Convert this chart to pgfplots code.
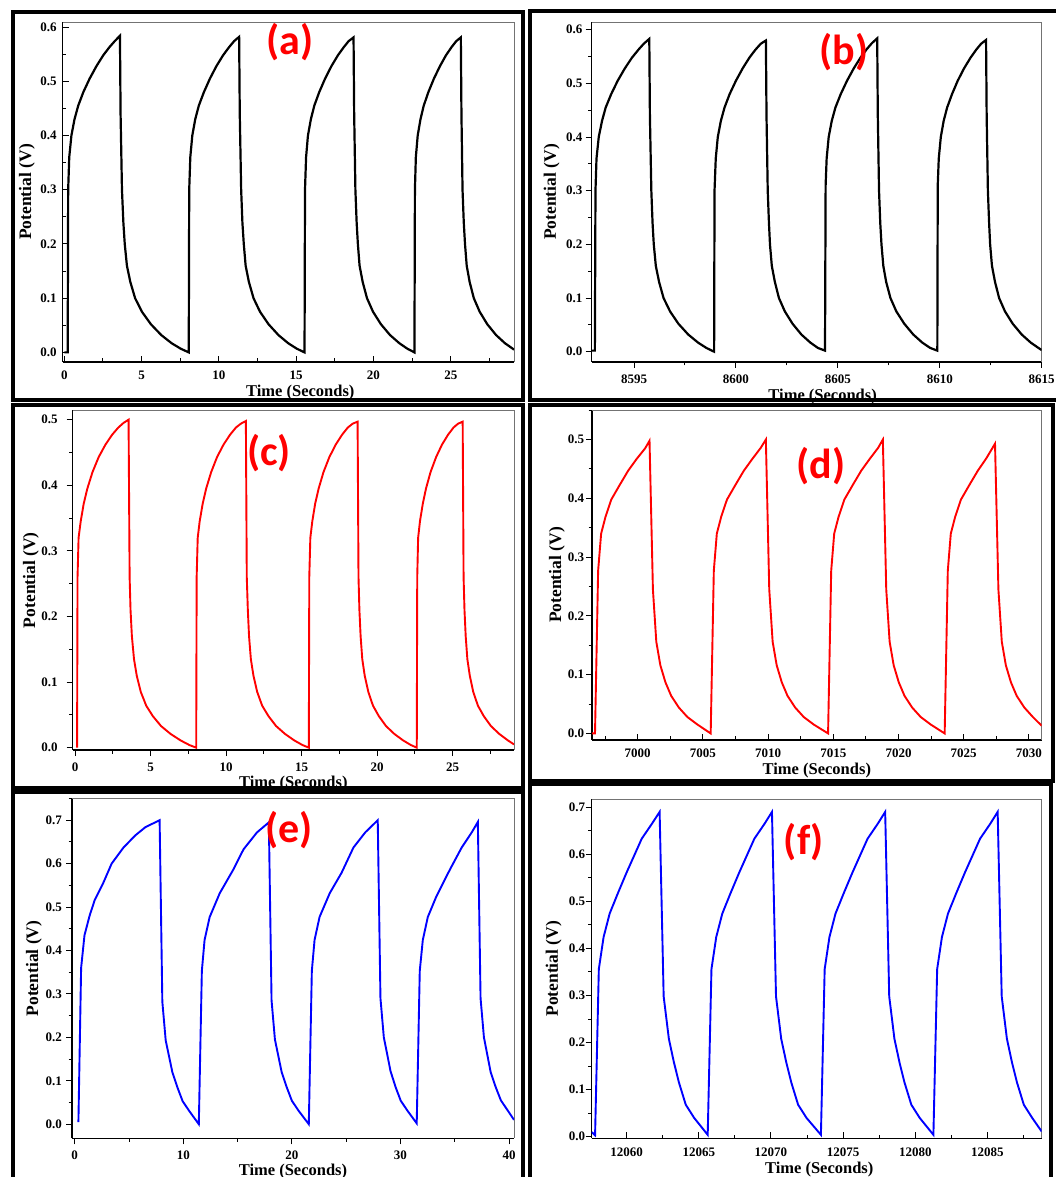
\documentclass[border=0pt]{standalone}
\usepackage{pgfplots}
\pgfplotsset{compat=1.18}
\usepackage{fontspec}
\setmainfont{Liberation Serif}
\newfontfamily\panelfont{Carlito}
\newcommand\ticksfont{\fontsize{13}{13}\selectfont\bfseries}
\newcommand\labfont{\fontsize{16.5}{16.5}\selectfont\bfseries}
\newcommand\ylabfont{\fontsize{17.5}{17.5}\selectfont\bfseries}

\pgfplotsset{
  gcd/.style={
    scale only axis,
    axis x line*=bottom, axis y line*=left,
    axis line style={-, line width=1.3pt},
    tick align=inside,
    major tick length=6pt, minor tick length=3.5pt,
    every tick/.style={black, line width=1pt},
    tick label style={font=\ticksfont, inner sep=0pt},
    /pgf/number format/assume math mode=true,
    /pgf/number format/1000 sep={},
    scaled x ticks=false, scaled y ticks=false,
    x tick label style={/pgf/number format/fixed, /pgf/number format/precision=1},
    y tick label style={/pgf/number format/fixed,
      /pgf/number format/fixed zerofill, /pgf/number format/precision=1},
    xlabel={Time (Seconds)}, ylabel={Potential (V)},
    every axis x label/.style={at={(axis description cs:0.5,0)}, anchor=center, font=\labfont},
    every axis y label/.style={at={(axis description cs:0,0.5)}, anchor=center, rotate=90, font=\ylabfont},
    clip mode=individual,
  },
  % ticks drawn outside the box
  xout/.style={major x tick style={yshift=-6pt}, minor x tick style={yshift=-3.5pt}},
  yout/.style={major y tick style={xshift=-6pt}, minor y tick style={xshift=-3.5pt}},
  % tick label offsets
  xtl/.style={x tick label style={anchor=center, yshift=-#1}},
  ytl/.style={y tick label style={anchor=east, xshift=-#1}},
}
\newcommand\boxedges{\draw[black!55, line width=0.8pt]
  (rel axis cs:0,1) -- (rel axis cs:1,1) -- (rel axis cs:1,0);}

\begin{document}
\begin{tikzpicture}[x=1pt, y=1pt]
\useasboundingbox (0,0) rectangle (1056,1177);
\clip (0,0) rectangle (1056,1177);

% ---------- (a) ----------
\begin{axis}[gcd, at={(62.6pt,815.1pt)}, anchor=south west,
  width=451.4pt, height=339.9pt,
  xtl=13.5pt, ytl=5.8pt,
  xlabel style={yshift=-31pt, xshift=12pt}, ylabel style={yshift=35.6pt},
  xmin=-0.11, xmax=29.09, ymin=-0.0175, ymax=0.6094,
  xtick={0,5,...,25}, minor xtick={2.5,7.5,...,27.5},
  ytick={0,0.1,...,0.6}, minor ytick={0.05,0.15,...,0.55}]
\boxedges
\addplot[black, line width=2.2pt] coordinates {
(0.00,0.0)(0.22,0.0)(0.25,0.30)(0.32,0.36)(0.46,0.40)(0.66,0.43)(0.90,0.455)(1.23,0.48)(1.64,0.505)(2.08,0.528)(2.52,0.548)(2.92,0.563)(3.26,0.574)(3.60,0.584)
(3.64,0.44)(3.73,0.30)(3.82,0.24)(3.91,0.20)(4.05,0.16)(4.27,0.13)(4.58,0.10)(5.02,0.075)(5.60,0.052)(6.27,0.032)(6.94,0.017)(7.52,0.007)(8.05,0.0)
(8.08,0.30)(8.15,0.36)(8.28,0.40)(8.47,0.43)(8.70,0.455)(9.03,0.48)(9.42,0.505)(9.84,0.528)(10.27,0.548)(10.66,0.563)(10.98,0.574)(11.31,0.582)
(11.35,0.44)(11.44,0.30)(11.52,0.24)(11.61,0.20)(11.73,0.16)(11.94,0.13)(12.24,0.10)(12.66,0.075)(13.21,0.052)(13.85,0.032)(14.48,0.017)(15.03,0.007)(15.54,0.0)
(15.57,0.30)(15.64,0.36)(15.76,0.40)(15.95,0.43)(16.17,0.455)(16.49,0.48)(16.87,0.505)(17.28,0.528)(17.70,0.548)(18.08,0.563)(18.39,0.574)(18.71,0.581)
(18.75,0.44)(18.83,0.30)(18.91,0.24)(18.99,0.20)(19.10,0.16)(19.30,0.13)(19.58,0.10)(19.97,0.075)(20.48,0.052)(21.07,0.032)(21.67,0.017)(22.18,0.007)(22.65,0.0)
(22.68,0.30)(22.74,0.36)(22.86,0.40)(23.04,0.43)(23.25,0.455)(23.55,0.48)(23.91,0.505)(24.30,0.528)(24.69,0.548)(25.05,0.563)(25.35,0.574)(25.65,0.581)
(25.69,0.44)(25.76,0.30)(25.84,0.24)(25.92,0.20)(26.03,0.16)(26.22,0.13)(26.49,0.10)(26.87,0.075)(27.36,0.052)(27.93,0.032)(28.50,0.017)(29.00,0.007)(29.09,0.005)
};
\end{axis}

% ---------- (b) ----------
\begin{axis}[gcd, xout, yout, at={(591.6pt,815.1pt)}, anchor=south west,
  width=450.1pt, height=339.9pt,
  xtl=17pt, ytl=9pt,
  xlabel style={yshift=-34.5pt, xshift=6pt}, ylabel style={yshift=40pt},
  xmin=8592.92, xmax=8615.0, ymin=-0.019, ymax=0.6145,
  xtick={8595,8600,...,8615}, minor xtick={8597.5,8602.5,...,8612.5},
  ytick={0,0.1,...,0.6}, minor ytick={0.05,0.15,...,0.55}]
\boxedges
\addplot[black, line width=2.2pt] coordinates {
(8592.92,0.002)(8593.08,0.002)(8593.11,0.30)(8593.16,0.36)(8593.27,0.40)(8593.43,0.43)(8593.61,0.455)(8593.88,0.48)(8594.20,0.505)(8594.55,0.528)(8594.90,0.548)(8595.22,0.563)(8595.48,0.574)(8595.75,0.583)
(8595.78,0.44)(8595.85,0.30)(8595.91,0.24)(8595.97,0.20)(8596.07,0.16)(8596.23,0.13)(8596.45,0.10)(8596.77,0.075)(8597.18,0.052)(8597.66,0.032)(8598.14,0.017)(8598.55,0.007)(8598.93,0.0)
(8598.95,0.30)(8599.01,0.36)(8599.11,0.40)(8599.26,0.43)(8599.44,0.455)(8599.69,0.48)(8600.00,0.505)(8600.33,0.528)(8600.66,0.548)(8600.96,0.563)(8601.22,0.574)(8601.47,0.580)
(8601.50,0.44)(8601.56,0.30)(8601.62,0.24)(8601.67,0.20)(8601.76,0.16)(8601.91,0.13)(8602.11,0.10)(8602.40,0.075)(8602.78,0.052)(8603.21,0.032)(8603.65,0.017)(8604.02,0.007)(8604.37,0.002)
(8604.40,0.31)(8604.45,0.36)(8604.55,0.40)(8604.70,0.43)(8604.88,0.455)(8605.14,0.48)(8605.45,0.505)(8605.78,0.528)(8606.11,0.548)(8606.42,0.564)(8606.67,0.575)(8606.93,0.584)
(8606.96,0.44)(8607.02,0.30)(8607.08,0.24)(8607.14,0.20)(8607.23,0.16)(8607.37,0.13)(8607.58,0.10)(8607.87,0.075)(8608.26,0.052)(8608.70,0.032)(8609.14,0.017)(8609.53,0.007)(8609.88,0.002)
(8609.90,0.31)(8609.95,0.36)(8610.05,0.40)(8610.19,0.43)(8610.36,0.455)(8610.60,0.48)(8610.88,0.505)(8611.19,0.528)(8611.51,0.548)(8611.79,0.563)(8612.03,0.574)(8612.27,0.581)
(8612.30,0.44)(8612.36,0.30)(8612.42,0.24)(8612.47,0.20)(8612.56,0.16)(8612.71,0.13)(8612.91,0.10)(8613.20,0.075)(8613.58,0.052)(8614.02,0.032)(8614.46,0.017)(8614.84,0.007)(8615.00,0.003)
};
\end{axis}

% ---------- (c) ----------
\begin{axis}[gcd, xout, yout, at={(72.7pt,426.9pt)}, anchor=south west,
  width=441.3pt, height=339.9pt,
  xtl=17pt, ytl=15pt,
  xlabel style={yshift=-33.8pt}, ylabel style={yshift=41.7pt},
  xmin=-0.16, xmax=29.07, ymin=-0.0037, ymax=0.5145,
  xtick={0,5,...,25}, minor xtick={2.5,7.5,...,27.5},
  ytick={0,0.1,...,0.5}, minor ytick={0.05,0.15,...,0.45}]
\boxedges
\addplot[red, line width=1.9pt] coordinates {
(0.13,0.0)(0.16,0.26)(0.23,0.32)(0.37,0.345)(0.57,0.372)(0.81,0.395)(1.15,0.42)(1.56,0.443)(2.01,0.462)(2.45,0.477)(2.86,0.488)(3.20,0.495)(3.54,0.500)
(3.61,0.26)(3.67,0.21)(3.76,0.17)(3.90,0.135)(4.08,0.11)(4.35,0.085)(4.71,0.064)(5.15,0.048)(5.69,0.033)(6.32,0.021)(6.99,0.011)(7.57,0.004)(8.02,0.0)
(8.05,0.26)(8.12,0.32)(8.25,0.345)(8.45,0.372)(8.68,0.395)(9.01,0.42)(9.40,0.443)(9.83,0.462)(10.26,0.477)(10.65,0.488)(10.98,0.494)(11.31,0.498)
(11.37,0.26)(11.44,0.21)(11.52,0.17)(11.64,0.135)(11.81,0.11)(12.06,0.085)(12.39,0.064)(12.81,0.048)(13.31,0.033)(13.90,0.021)(14.52,0.011)(15.06,0.004)(15.48,0.0)
(15.51,0.26)(15.58,0.32)(15.71,0.345)(15.90,0.372)(16.13,0.395)(16.45,0.42)(16.84,0.443)(17.26,0.462)(17.68,0.477)(18.06,0.488)(18.39,0.494)(18.71,0.497)
(18.77,0.26)(18.83,0.21)(18.91,0.17)(19.02,0.135)(19.18,0.11)(19.42,0.085)(19.73,0.064)(20.12,0.048)(20.59,0.033)(21.14,0.021)(21.73,0.011)(22.24,0.004)(22.63,0.0)
(22.66,0.26)(22.72,0.32)(22.84,0.345)(23.03,0.372)(23.24,0.395)(23.54,0.42)(23.91,0.443)(24.30,0.462)(24.70,0.477)(25.06,0.488)(25.37,0.494)(25.67,0.497)
(25.73,0.26)(25.79,0.21)(25.87,0.17)(25.98,0.135)(26.14,0.11)(26.37,0.085)(26.68,0.064)(27.07,0.048)(27.54,0.033)(28.09,0.021)(28.67,0.011)(29.07,0.005)
};
\end{axis}

% ---------- (d) ----------
\begin{axis}[gcd, yout, at={(592pt,437.1pt)}, anchor=south west,
  width=449.7pt, height=329.7pt,
  xtl=13pt, ytl=7.8pt,
  xlabel style={yshift=-30.5pt}, ylabel style={yshift=35pt},
  xmin=6996.5, xmax=7030.98, ymin=-0.011, ymax=0.55,
  xtick={7000,7005,...,7030}, minor xtick={6997.5,7002.5,...,7027.5},
  ytick={0,0.1,...,0.5}, minor ytick={0.05,0.15,...,0.55}]
\boxedges
\addplot[red, line width=1.9pt] coordinates {
(6996.50,0.0)(6996.73,0.0)(6996.97,0.277)(6997.20,0.34)(6997.54,0.369)(6997.98,0.398)(6998.63,0.423)(6999.27,0.447)(6999.92,0.467)(7000.57,0.485)(7000.91,0.498)
(7001.17,0.245)(7001.43,0.156)(7001.74,0.116)(7002.13,0.087)(7002.57,0.064)(7003.16,0.044)(7003.81,0.028)(7004.59,0.015)(7005.60,0.0)
(7005.84,0.277)(7006.07,0.34)(7006.41,0.369)(7006.85,0.398)(7007.50,0.423)(7008.14,0.447)(7008.79,0.467)(7009.44,0.486)(7009.83,0.500)
(7010.09,0.245)(7010.35,0.156)(7010.66,0.116)(7011.05,0.087)(7011.49,0.064)(7012.08,0.044)(7012.73,0.028)(7013.51,0.015)(7014.60,0.0)
(7014.84,0.277)(7015.07,0.34)(7015.41,0.369)(7015.85,0.398)(7016.50,0.423)(7017.14,0.447)(7017.79,0.467)(7018.44,0.486)(7018.80,0.500)
(7019.06,0.245)(7019.32,0.156)(7019.63,0.116)(7020.02,0.087)(7020.46,0.064)(7021.05,0.044)(7021.70,0.028)(7022.48,0.015)(7023.54,0.0)
(7023.78,0.277)(7024.01,0.34)(7024.35,0.369)(7024.79,0.398)(7025.44,0.423)(7026.08,0.447)(7026.73,0.468)(7027.40,0.493)
(7027.66,0.245)(7027.92,0.156)(7028.23,0.116)(7028.62,0.087)(7029.06,0.064)(7029.65,0.044)(7030.30,0.028)(7030.98,0.013)
};
\end{axis}

% ---------- (e) ----------
\begin{axis}[gcd, xout, yout, at={(72pt,38.6pt)}, anchor=south west,
  width=442pt, height=339.9pt,
  xtl=17pt, ytl=10pt,
  xlabel style={yshift=-33pt}, ylabel style={yshift=38pt},
  xmin=-0.25, xmax=40.46, ymin=-0.0327, ymax=0.75,
  xtick={0,10,...,40}, minor xtick={5,15,...,35},
  ytick={0,0.1,...,0.7}, minor ytick={0.05,0.15,...,0.75}]
\boxedges
\addplot[blue, line width=1.9pt] coordinates {
(0.34,0.005)(0.59,0.36)(0.90,0.435)(1.37,0.48)(1.84,0.516)(2.62,0.555)(3.40,0.60)(4.49,0.637)(5.58,0.665)(6.51,0.684)(7.82,0.700)
(8.07,0.282)(8.38,0.193)(9.00,0.119)(9.47,0.084)(9.94,0.053)(10.56,0.030)(11.43,0.0)
(11.71,0.353)(11.96,0.424)(12.43,0.477)(13.36,0.532)(14.60,0.586)(15.55,0.633)(16.79,0.672)(17.88,0.695)
(18.13,0.285)(18.44,0.195)(19.06,0.12)(19.53,0.085)(20.00,0.054)(20.62,0.031)(21.56,0.0)
(21.84,0.353)(22.09,0.424)(22.55,0.477)(23.49,0.532)(24.58,0.579)(25.67,0.637)(26.76,0.672)(27.91,0.700)
(28.16,0.29)(28.47,0.2)(29.09,0.122)(29.56,0.085)(30.03,0.054)(30.65,0.031)(31.50,0.002)
(31.78,0.353)(32.06,0.424)(32.52,0.477)(33.30,0.524)(34.55,0.586)(35.64,0.637)(36.57,0.672)(37.13,0.696)
(37.38,0.29)(37.69,0.2)(38.31,0.12)(38.78,0.085)(39.25,0.055)(39.87,0.032)(40.46,0.01)
};
\end{axis}

% ---------- (f) ----------
\begin{axis}[gcd, yout, at={(591.6pt,38.6pt)}, anchor=south west,
  width=450.1pt, height=339.2pt,
  xtl=14pt, ytl=6.4pt,
  xlabel style={yshift=-31pt, xshift=2.6pt}, ylabel style={yshift=38pt},
  xmin=12057.58, xmax=12088.75, ymin=-0.0036, ymax=0.717,
  xtick={12060,12065,...,12085}, minor xtick={12062.5,12067.5,...,12087.5},
  ytick={0,0.1,...,0.7}, minor ytick={0.05,0.15,...,0.65}]
\boxedges
\addplot[blue, line width=1.9pt] coordinates {
(12057.58,0.010)(12057.82,0.003)
(12058.08,0.356)(12058.41,0.424)(12058.83,0.474)(12059.41,0.518)(12060.00,0.561)(12061.05,0.633)(12061.76,0.665)(12062.29,0.690)
(12062.57,0.298)(12062.93,0.208)(12063.28,0.158)(12063.63,0.115)(12064.10,0.068)(12064.68,0.040)(12065.62,0.004)
(12065.88,0.356)(12066.21,0.424)(12066.63,0.474)(12067.21,0.518)(12067.80,0.561)(12068.85,0.633)(12069.56,0.665)(12070.07,0.690)
(12070.35,0.298)(12070.71,0.208)(12071.06,0.158)(12071.41,0.115)(12071.88,0.068)(12072.46,0.040)(12073.46,0.004)
(12073.72,0.356)(12074.05,0.424)(12074.47,0.474)(12075.05,0.518)(12075.64,0.561)(12076.69,0.633)(12077.40,0.665)(12077.91,0.690)
(12078.19,0.298)(12078.55,0.208)(12078.90,0.158)(12079.25,0.115)(12079.72,0.068)(12080.30,0.040)(12081.25,0.004)
(12081.51,0.356)(12081.84,0.424)(12082.26,0.474)(12082.84,0.518)(12083.43,0.561)(12084.48,0.633)(12085.19,0.665)(12085.70,0.690)
(12085.98,0.298)(12086.34,0.208)(12086.69,0.158)(12087.04,0.115)(12087.51,0.068)(12088.09,0.040)(12088.75,0.011)
};
\end{axis}

% panel frames
\begin{scope}[line width=4pt]
\draw (12.5,1164.5) rectangle (523,777);
\draw (1070,1165.5) -- (530,1165.5) -- (530,777) -- (1070,777);
\draw (12.5,772) rectangle (523,389);
\draw (530,772) rectangle (1053,396);
\draw (12.5,-10) -- (12.5,385) -- (523,385) -- (523,-10);
\draw (530,-10) -- (530,393) -- (1051,393) -- (1051,-10);
\end{scope}

% panel letters
\begin{scope}[every node/.style={text=red, font=\panelfont\bfseries\fontsize{42}{42}\selectfont, inner sep=0pt}]
\node at (290,1135) {(a)};
\node at (844,1125) {(b)};
\node at (269,724) {(c)};
\node at (821,711) {(d)};
\node at (289,346.5) {(e)};
\node at (804,335.4) {(f)};
\end{scope}
\end{tikzpicture}
\end{document}
